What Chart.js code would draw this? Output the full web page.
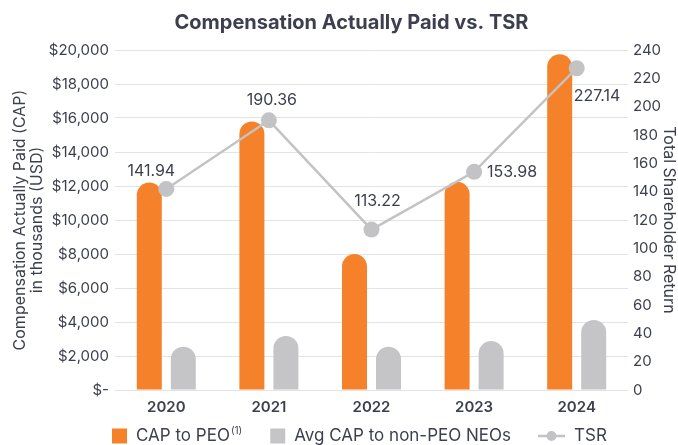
<!DOCTYPE html>
<html>
<head>
<meta charset="utf-8">
<script src="https://cdn.jsdelivr.net/npm/chart.js@4.4.1/dist/chart.umd.min.js"></script>
<style>
  html, body { margin: 0; padding: 0; background: #ffffff; }
  #wrap { width: 678px; height: 445px; position: relative; }
</style>
</head>
<body>
<div id="wrap"><canvas id="cap"></canvas></div>
<script>
// Fiscal years shown on the x axis
const years = ['2020', '2021', '2022', '2023', '2024'];
// Compensation actually paid to the PEO, in thousands of USD
const capToPeo = [12200, 15800, 8000, 12250, 19750];
// Average compensation actually paid to the non-PEO NEOs, in thousands of USD
const capToNonPeoNeos = [2550, 3180, 2550, 2880, 4120];
// Total shareholder return index values
const tsr = [141.94, 190.36, 113.22, 153.98, 227.14];

const INK = '#3c3f4d';
const ORANGE = '#f5822a';
const GREY_BAR = '#c5c4c6';
const GREY_LINE = '#c3c2c4';
const FONT = 'Inter, "Liberation Sans", Arial, sans-serif';
const TITLE = 'Compensation Actually Paid vs. TSR';

// Where each TSR value label sits relative to its point
const tsrLabelPlacement = [
  { dx: -15, dy: -18, align: 'center' },
  { dx: 3, dy: -20, align: 'center' },
  { dx: 6, dy: -28, align: 'center' },
  { dx: 13, dy: 0, align: 'left' },
  { dx: -3, dy: 28, align: 'left' }
];

const tsrLabels = {
  id: 'tsrLabels',
  afterDatasetsDraw(chart) {
    const meta = chart.getDatasetMeta(2);
    const ctx = chart.ctx;
    ctx.save();
    ctx.font = '16px ' + FONT;
    ctx.fillStyle = INK;
    ctx.textBaseline = 'middle';
    meta.data.forEach((pt, i) => {
      const p = tsrLabelPlacement[i];
      ctx.textAlign = p.align;
      ctx.fillText(tsr[i].toFixed(2), pt.x + p.dx, pt.y + p.dy);
    });
    ctx.restore();
  }
};

// Heading, centred a little left of the plot area's middle
const heading = {
  id: 'heading',
  afterDraw(chart) {
    const ctx = chart.ctx;
    const ca = chart.chartArea;
    ctx.save();
    ctx.font = 'bold 20px ' + FONT;
    ctx.fillStyle = INK;
    ctx.textAlign = 'center';
    ctx.textBaseline = 'middle';
    ctx.fillText(TITLE, (ca.left + ca.right) / 2 - 20, 23);
    ctx.restore();
  }
};

// Legend row under the axis: two swatches and a line-with-marker key
const bottomLegend = {
  id: 'bottomLegend',
  afterDraw(chart) {
    const ctx = chart.ctx;
    const ds = chart.data.datasets;
    const y = 436;
    let x = chart.chartArea.left - 3;
    ctx.save();
    ctx.textBaseline = 'middle';
    ctx.textAlign = 'left';
    const mainFont = '17px ' + FONT;
    const supFont = '10px ' + FONT;

    // CAP to PEO
    ctx.fillStyle = ds[0].backgroundColor;
    ctx.fillRect(x, y - 7.5, 15, 15);
    x += 15 + 9;
    ctx.font = mainFont;
    ctx.fillStyle = INK;
    ctx.fillText(ds[0].label, x, y);
    x += ctx.measureText(ds[0].label).width + 1;
    ctx.font = supFont;
    ctx.fillText('(1)', x, y - 5);
    x += ctx.measureText('(1)').width + 28;

    // Avg CAP to non-PEO NEOs
    ctx.fillStyle = ds[1].backgroundColor;
    ctx.fillRect(x, y - 7.5, 15, 15);
    x += 15 + 9;
    ctx.font = mainFont;
    ctx.fillStyle = INK;
    ctx.fillText(ds[1].label, x, y);
    x += ctx.measureText(ds[1].label).width + 27;

    // TSR
    ctx.strokeStyle = ds[2].borderColor;
    ctx.lineWidth = 2.5;
    ctx.beginPath();
    ctx.moveTo(x, y);
    ctx.lineTo(x + 27, y);
    ctx.stroke();
    ctx.fillStyle = ds[2].pointBackgroundColor;
    ctx.beginPath();
    ctx.arc(x + 13.5, y, 5, 0, Math.PI * 2);
    ctx.fill();
    x += 27 + 9;
    ctx.font = mainFont;
    ctx.fillStyle = INK;
    ctx.fillText(ds[2].label, x, y);
    ctx.restore();
  }
};

new Chart(document.getElementById('cap'), {
  data: {
    labels: years,
    datasets: [
      {
        type: 'bar',
        label: 'CAP to PEO',
        data: capToPeo,
        backgroundColor: ORANGE,
        borderRadius: { topLeft: 20, topRight: 20 },
        borderSkipped: 'bottom',
        categoryPercentage: 0.663,
        barPercentage: 0.735,
        yAxisID: 'y',
        order: 1
      },
      {
        type: 'bar',
        label: 'Avg CAP to non-PEO NEOs',
        data: capToNonPeoNeos,
        backgroundColor: GREY_BAR,
        borderRadius: { topLeft: 20, topRight: 20 },
        borderSkipped: 'bottom',
        categoryPercentage: 0.663,
        barPercentage: 0.735,
        yAxisID: 'y',
        order: 1
      },
      {
        type: 'line',
        label: 'TSR',
        data: tsr,
        borderColor: GREY_LINE,
        borderWidth: 2.5,
        pointBackgroundColor: GREY_LINE,
        pointBorderWidth: 0,
        pointRadius: 8,
        tension: 0,
        yAxisID: 'y1',
        order: 0
      }
    ]
  },
  options: {
    responsive: true,
    maintainAspectRatio: false,
    animation: false,
    layout: { padding: { left: 0, right: 0, top: 50, bottom: 25 } },
    plugins: {
      legend: { display: false },
      tooltip: { enabled: false },
      title: { display: false }
    },
    scales: {
      x: {
        grid: { display: false, drawTicks: false },
        border: { display: false },
        ticks: {
          color: INK,
          font: { family: FONT, size: 15, weight: '600' },
          padding: 8
        },
        afterFit(scale) { scale.height = 30; }
      },
      y: {
        position: 'left',
        min: 0,
        max: 20000,
        grid: { color: '#e3e3e3', lineWidth: 1, drawTicks: false },
        border: { display: false },
        ticks: {
          stepSize: 2000,
          color: INK,
          font: { family: FONT, size: 15 },
          padding: 6,
          callback: v => v === 0 ? '$-' : '$' + v.toLocaleString('en-US')
        },
        title: {
          display: true,
          text: ['Compensation Actually Paid (CAP)', 'in thousands (USD)'],
          color: INK,
          font: { family: FONT, size: 16, lineHeight: 1.05 },
          padding: { top: 12, bottom: 0 }
        },
        afterFit(scale) { scale.width = 115; }
      },
      y1: {
        position: 'right',
        min: 0,
        max: 240,
        grid: { display: false, drawTicks: false },
        border: { display: false },
        ticks: {
          stepSize: 20,
          color: INK,
          font: { family: FONT, size: 15 },
          padding: 5
        },
        title: {
          display: true,
          text: 'Total Shareholder Return',
          color: INK,
          font: { family: FONT, size: 16 },
          padding: { top: 0, bottom: 0 }
        },
        afterFit(scale) { scale.width = 50; }
      }
    }
  },
  plugins: [tsrLabels, heading, bottomLegend]
});
</script>
</body>
</html>
